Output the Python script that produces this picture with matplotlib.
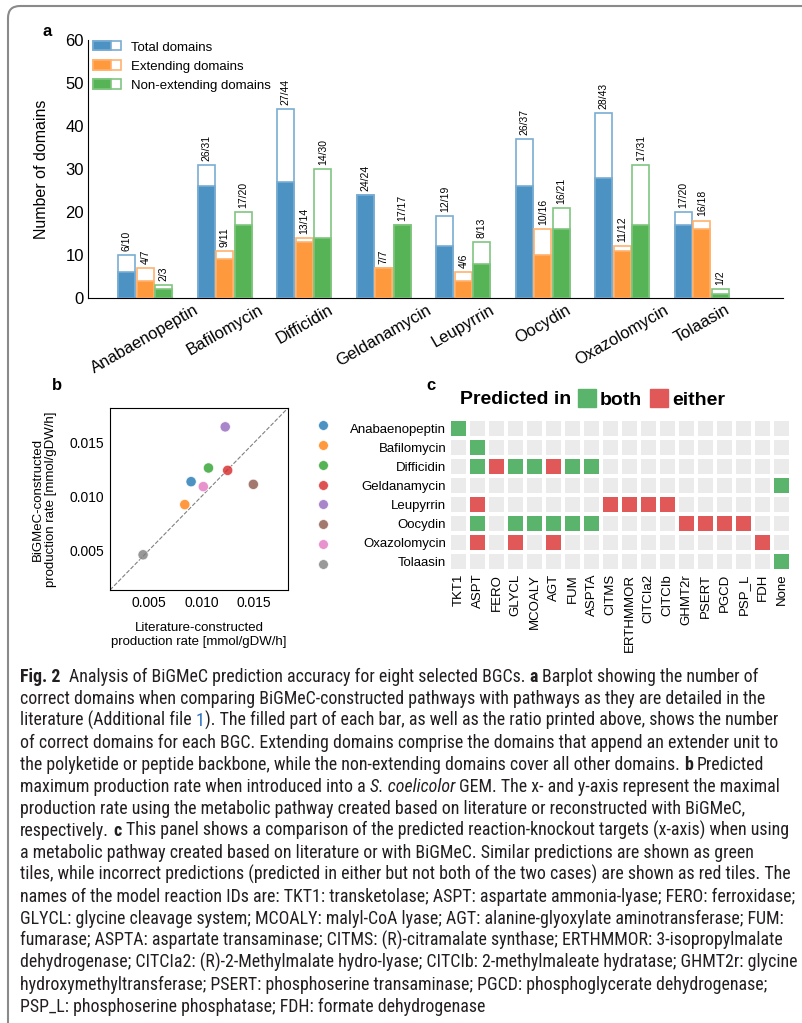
import numpy as np
import matplotlib
matplotlib.use('Agg')
import matplotlib.pyplot as plt
from matplotlib import font_manager
from matplotlib.patches import Rectangle, FancyBboxPatch
from matplotlib.lines import Line2D
from matplotlib.colors import ListedColormap
from matplotlib.legend_handler import HandlerBase
from matplotlib.transforms import IdentityTransform

plt.rcParams['font.family'] = ['Liberation Sans', 'DejaVu Sans']

W, H = 802, 1023

# ---------------- data ----------------
BGCS = ['Anabaenopeptin', 'Bafilomycin', 'Difficidin', 'Geldanamycin',
        'Leupyrrin', 'Oocydin', 'Oxazolomycin', 'Tolaasin']

TOTAL_OK = [6, 26, 27, 24, 12, 26, 28, 17]
TOTAL_ALL = [10, 31, 44, 24, 19, 37, 43, 20]
EXT_OK = [4, 9, 13, 7, 4, 10, 11, 16]
EXT_ALL = [7, 11, 14, 7, 6, 16, 12, 18]
NONEXT_OK = [2, 17, 14, 17, 8, 16, 17, 1]
NONEXT_ALL = [3, 20, 30, 17, 13, 21, 31, 2]

LIT_RATE = [0.0090, 0.0084, 0.01065, 0.01247, 0.01224, 0.01491, 0.01016, 0.00444]
BIG_RATE = [0.01136, 0.00923, 0.01263, 0.01241, 0.01645, 0.01111, 0.0109, 0.00457]

KO_TARGETS = ['TKT1', 'ASPT', 'FERO', 'GLYCL', 'MCOALY', 'AGT', 'FUM', 'ASPTA',
              'CITMS', 'ERTHMMOR', 'CITCIa2', 'CITCIb', 'GHMT2r', 'PSERT',
              'PGCD', 'PSP_L', 'FDH', 'None']
KO_BOTH = {
    'Anabaenopeptin': ['TKT1'],
    'Bafilomycin': ['ASPT'],
    'Difficidin': ['ASPT', 'GLYCL', 'MCOALY', 'FUM', 'ASPTA'],
    'Geldanamycin': ['None'],
    'Oocydin': ['ASPT', 'GLYCL', 'MCOALY', 'AGT', 'FUM', 'ASPTA'],
    'Tolaasin': ['None'],
}
KO_EITHER = {
    'Difficidin': ['FERO', 'AGT'],
    'Leupyrrin': ['ASPT', 'CITMS', 'ERTHMMOR', 'CITCIa2', 'CITCIb'],
    'Oocydin': ['GHMT2r', 'PSERT', 'PGCD', 'PSP_L'],
    'Oxazolomycin': ['ASPT', 'GLYCL', 'AGT', 'FDH'],
}

SERIES = [('Total domains', TOTAL_OK, TOTAL_ALL, '#1f77b4'),
          ('Extending domains', EXT_OK, EXT_ALL, '#ff7f0e'),
          ('Non-extending domains', NONEXT_OK, NONEXT_ALL, '#2ca02c')]
PT_COLORS = ['#1f77b4', '#ff7f0e', '#2ca02c', '#d62728',
             '#9467bd', '#8c564b', '#e377c2', '#7f7f7f']


def box(l, t, r, b):
    return [l / W, 1 - b / H, (r - l) / W, (b - t) / H]


def mix(c, a):
    rgb = np.array(matplotlib.colors.to_rgb(c))
    return tuple(a * rgb + (1 - a))


class SplitHandler(HandlerBase):
    def __init__(self, fill, edge):
        super().__init__()
        self.fill, self.edge = fill, edge

    def create_artists(self, legend, orig, xd, yd, width, height, fontsize, trans):
        outer = Rectangle((xd, yd), width, height, facecolor='white',
                          edgecolor=self.edge, lw=1.2, transform=trans)
        inner = Rectangle((xd, yd), width * 0.65, height, facecolor=self.fill,
                          edgecolor=self.edge, lw=1.2, transform=trans)
        return [outer, inner]


fig = plt.figure(figsize=(W / 100, H / 100), dpi=100)

# ---------------- panel a ----------------
ax = fig.add_axes(box(88, 40, 783, 298))
x = np.arange(len(BGCS))
bw, off = 0.214, 0.233
handles, hmap = [], {}
for k, (name, ok, allv, col) in enumerate(SERIES):
    xs = x + (k - 1) * off
    fill, edge = mix(col, 0.8), mix(col, 0.6)
    ax.bar(xs, allv, bw, color='white', edgecolor=edge, lw=1.2)
    ax.bar(xs, ok, bw, color=fill, edgecolor=edge, lw=1.2)
    for xi, o, a in zip(xs, ok, allv):
        ax.annotate(f'{o}/{a}', (xi, a), xytext=(0, 3), textcoords='offset points',
                    rotation=90, ha='center', va='bottom', fontsize=7.5)
    h = Rectangle((0, 0), 1, 1)
    handles.append(h)
    hmap[h] = SplitHandler(fill, edge)
ax.set_xlim(-0.72, 8.02)
ax.set_ylim(0, 60)
ax.set_yticks(range(0, 61, 10))
ax.set_xticks(x)
ax.set_xticklabels(BGCS, rotation=30)
ax.tick_params(length=0, labelsize=12, pad=3)
ax.set_ylabel('Number of domains', fontsize=11.5, labelpad=12)
for s in ('top', 'right'):
    ax.spines[s].set_visible(False)
ax.legend(handles, [s[0] for s in SERIES], handler_map=hmap, loc='upper left',
          bbox_to_anchor=(0.007, 0.995), frameon=False, fontsize=9.5,
          borderpad=0, borderaxespad=0, handlelength=2.1, handleheight=0.75,
          handletextpad=0.8, labelspacing=0.5)
fig.text(47.5 / W, 1 - 32 / H, 'a', fontsize=12, fontweight='bold', ha='center', va='center')

# ---------------- panel b ----------------
bx = fig.add_axes(box(110, 408, 288, 590))
lim = (0.0013, 0.0182)
bx.plot(lim, lim, ls='--', color='gray', lw=0.8, zorder=1)
bx.scatter(LIT_RATE, BIG_RATE, s=55, c=PT_COLORS, alpha=0.8, edgecolors='white',
           linewidths=0.6, zorder=3)
bx.set_xlim(lim)
bx.set_ylim(lim)
bx.set_xticks([0.005, 0.010, 0.015])
bx.set_yticks([0.005, 0.010, 0.015])
bx.set_xticklabels(['0.005', '0.010', '0.015'])
bx.set_yticklabels(['0.005', '0.010', '0.015'])
bx.tick_params(length=0, labelsize=10, pad=4)
for s in bx.spines.values():
    s.set_linewidth(0.8)
bx.set_xlabel('Literature-constructed\nproduction rate [mmol/gDW/h]', fontsize=9.5, labelpad=9)
bx.set_ylabel('BiGMeC-constructed\nproduction rate [mmol/gDW/h]', fontsize=9.5, labelpad=9)
dots = [Line2D([], [], ls='', marker='o', markersize=7, markerfacecolor=c,
               markeredgecolor='white', markeredgewidth=0.5, alpha=0.8) for c in PT_COLORS]
fig.legend(dots, [''] * len(dots), loc='upper left', bbox_to_anchor=(316 / W, 1 - 419 / H),
           frameon=False, fontsize=10, handlelength=1.0, handletextpad=0,
           borderpad=0, borderaxespad=0, labelspacing=0.42)
fig.text(57 / W, 1 - 385 / H, 'b', fontsize=12, fontweight='bold', ha='center', va='center')

# ---------------- panel c ----------------
cx = fig.add_axes(box(449, 419, 791, 571))
M = np.zeros((len(BGCS), len(KO_TARGETS)))
for i, b in enumerate(BGCS):
    for t in KO_BOTH.get(b, []):
        M[i, KO_TARGETS.index(t)] = 1
    for t in KO_EITHER.get(b, []):
        M[i, KO_TARGETS.index(t)] = 2
cmap = ListedColormap(['#ebebeb', '#5ab46c', '#e05858'])
cx.pcolormesh(M, cmap=cmap, vmin=0, vmax=2, edgecolors='white', linewidth=1.5)
cx.set_xlim(0, len(KO_TARGETS))
cx.set_ylim(len(BGCS), 0)
cx.set_xticks(np.arange(len(KO_TARGETS)) + 0.5)
cx.set_xticklabels(KO_TARGETS, rotation=90)
cx.set_yticks(np.arange(len(BGCS)) + 0.5)
cx.set_yticklabels(BGCS)
cx.tick_params(length=0, labelsize=9.5, pad=2)
for s in cx.spines.values():
    s.set_visible(False)
fig.text(460 / W, 1 - 404 / H, 'Predicted in', fontsize=14, fontweight='bold',
         ha='left', va='baseline')
sq = [Line2D([], [], ls='', marker='s', markersize=13, markerfacecolor=c,
             markeredgecolor=c) for c in ('#5ab46c', '#e05858')]
fig.legend(sq, ['both', 'either'], loc='center left', bbox_to_anchor=(578 / W, 1 - 400 / H),
           ncol=2, frameon=False, prop={'size': 14, 'weight': 'bold'},
           handlelength=0.9, handletextpad=0.2, columnspacing=0.45,
           borderpad=0, borderaxespad=0)
fig.text(431 / W, 1 - 385 / H, 'c', fontsize=12, fontweight='bold', ha='center', va='center')

# ---------------- caption ----------------
CAPTION = [
    [('Fig. 2', 'b'), ('  Analysis of BiGMeC prediction accuracy for eight selected BGCs. ', 'r'),
     ('a', 'b'), (' Barplot showing the number of', 'r')],
    [('correct domains when comparing BiGMeC-constructed pathways with pathways as they are detailed in the', 'r')],
    [('literature (Additional file ', 'r'), ('1', 'l'),
     ('). The filled part of each bar, as well as the ratio printed above, shows the number', 'r')],
    [('of correct domains for each BGC. Extending domains comprise the domains that append an extender unit to', 'r')],
    [('the polyketide or peptide backbone, while the non-extending domains cover all other domains. ', 'r'),
     ('b', 'b'), (' Predicted', 'r')],
    [('maximum production rate when introduced into a ', 'r'), ('S. coelicolor', 'i'),
     (' GEM. The x- and y-axis represent the maximal', 'r')],
    [('production rate using the metabolic pathway created based on literature or reconstructed with BiGMeC,', 'r')],
    [('respectively. ', 'r'), ('c', 'b'),
     (' This panel shows a comparison of the predicted reaction-knockout targets (x-axis) when using', 'r')],
    [('a metabolic pathway created based on literature or with BiGMeC. Similar predictions are shown as green', 'r')],
    [('tiles, while incorrect predictions (predicted in either but not both of the two cases) are shown as red tiles. The', 'r')],
    [('names of the model reaction IDs are: TKT1: transketolase; ASPT: aspartate ammonia-lyase; FERO: ferroxidase;', 'r')],
    [('GLYCL: glycine cleavage system; MCOALY: malyl-CoA lyase; AGT: alanine-glyoxylate aminotransferase; FUM:', 'r')],
    [('fumarase; ASPTA: aspartate transaminase; CITMS: (R)-citramalate synthase; ERTHMMOR: 3-isopropylmalate', 'r')],
    [('dehydrogenase; CITCIa2: (R)-2-Methylmalate hydro-lyase; CITCIb: 2-methylmaleate hydratase; GHMT2r: glycine', 'r')],
    [('hydroxymethyltransferase; PSERT: phosphoserine transaminase; PGCD: phosphoglycerate dehydrogenase;', 'r')],
    [('PSP_L: phosphoserine phosphatase; FDH: formate dehydrogenase', 'r')],
]
# right end (px) of each caption line in the reference
CAPTION_END = [778, 777, 783, 783, 784, 784, 742, 779, 750, 790, 784, 774, 780, 793, 775, 553]

avail = {f.name for f in font_manager.fontManager.ttflist}
cap_font = 'Liberation Sans'
for cand in ['Liberation Sans Narrow', 'Roboto Condensed', 'Open Sans Condensed', 'Open Sans']:
    if cand in avail:
        cap_font = cand
        break

renderer = fig.canvas.get_renderer()
INK = '#231f20'


def style(kind, size):
    kw = dict(family=[cap_font, 'DejaVu Sans'], fontsize=size, color=INK)
    if kind == 'b':
        kw['fontweight'] = 'bold'
    elif kind == 'i':
        kw['fontstyle'] = 'italic'
    elif kind == 'l':
        kw['color'] = '#2a6ebb'
    return kw


def measure(s, kw):
    t = fig.text(0, 0, '|' + s + '|', **kw)
    w1 = t.get_window_extent(renderer).width
    t.set_text('||')
    w2 = t.get_window_extent(renderer).width
    t.remove()
    return w1 - w2


# least-squares font size matching the reference line lengths, never overflowing
meas = np.array([sum(measure(s, style(k, 10)) for s, k in runs) for runs in CAPTION])
target = np.array(CAPTION_END) - 20.0
scale = (meas * target).sum() / (meas ** 2).sum()
scale = min(scale, ((795 - 20) / meas).min())
cap_size = 10 * scale

for li, runs in enumerate(CAPTION):
    xp = 20.0
    yp = 682 + 22.0 * li
    for s, k in runs:
        kw = style(k, cap_size)
        core = s.strip()
        lead = len(s) - len(s.lstrip())
        trail = len(s) - len(s.rstrip())
        if lead:
            xp += measure(' ' * lead, kw)
        fig.text(xp / W, 1 - yp / H, core, ha='left', va='baseline', **kw)
        xp += measure(core, kw)
        if trail:
            xp += measure(' ' * trail, kw)

# rounded frame around the whole figure (cropped at right and bottom)
frame = FancyBboxPatch((8, -30), W + 30, H + 30 - 6,
                       boxstyle='round,pad=0,rounding_size=12',
                       transform=IdentityTransform(), facecolor='none',
                       edgecolor='#8a8a8a', lw=1.5, clip_on=False)
fig.add_artist(frame)

fig.savefig('out.png', dpi=100)
